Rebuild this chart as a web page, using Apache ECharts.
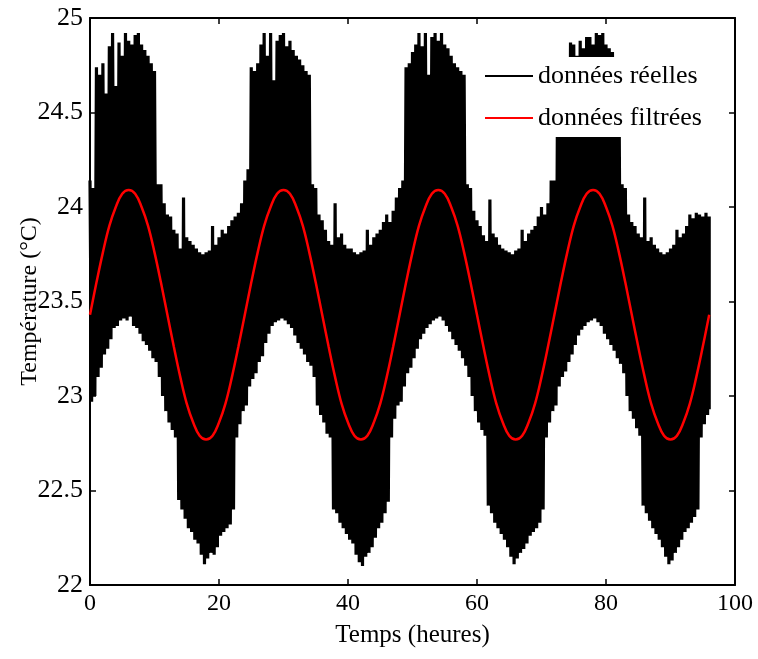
<!DOCTYPE html>
<html>
<head>
<meta charset="utf-8">
<script src="https://cdn.jsdelivr.net/npm/echarts@6/dist/echarts.min.js"></script>
<style>
html,body{margin:0;padding:0;background:#fff;}
#chart{width:758px;height:659px;}
</style>
</head>
<body>
<div id="chart"></div>
<script>
// Raw temperature: upper and lower envelope of the fast oscillation, every 0.5 h from 0 to 96 h
const envStep = 0.5;
const upperEnv = [
  24.14,24.10,24.74,24.70,24.76,24.60,24.85,24.92,24.64,24.87,24.80,24.92,24.88,24.86,24.91,24.92,24.86,24.83,24.80,24.76,24.72,24.12,24.12,24.02,23.96,23.95,23.88,23.86,23.78,24.05,23.84,23.82,23.80,23.78,23.76,23.75,23.76,23.77,23.90,23.80,23.84,23.88,23.86,23.90,23.93,23.95,23.97,24.02,
  24.14,24.20,24.74,24.72,24.76,24.86,24.92,24.80,24.92,24.67,24.88,24.91,24.92,24.85,24.88,24.83,24.80,24.78,24.75,24.72,24.70,24.12,24.10,23.96,23.93,23.88,23.82,23.80,24.02,23.84,23.86,23.80,23.78,23.78,23.76,23.75,23.76,23.77,23.88,23.80,23.84,23.86,23.88,23.92,23.96,23.92,23.98,24.05,
  24.10,24.14,24.74,24.76,24.82,24.86,24.92,24.85,24.92,24.70,24.90,24.92,24.88,24.92,24.86,24.84,24.80,24.76,24.74,24.72,24.70,24.12,24.10,23.98,23.93,23.90,23.85,23.82,24.04,23.86,23.84,23.80,23.78,23.77,23.76,23.75,23.77,23.78,23.88,23.82,23.86,23.88,23.90,23.95,24.00,23.96,24.02,24.14,
  24.14,24.70,24.75,24.78,24.76,24.87,24.86,24.80,24.88,24.84,24.90,24.90,24.86,24.92,24.91,24.92,24.86,24.84,24.82,24.76,24.72,24.12,24.10,23.96,23.92,23.90,23.86,23.84,24.05,23.82,23.84,23.80,23.78,23.76,23.75,23.76,23.78,23.80,23.88,23.84,23.86,23.90,23.96,23.94,23.97,23.96,23.95,23.97,23.95
];
const lowerEnv = [
  22.97,23.00,23.10,23.15,23.22,23.25,23.30,23.36,23.37,23.40,23.41,23.40,23.42,23.37,23.36,23.33,23.29,23.27,23.24,23.20,23.18,23.10,23.00,22.92,22.86,22.82,22.78,22.45,22.40,22.35,22.30,22.28,22.24,22.22,22.16,22.11,22.14,22.17,22.16,22.20,22.26,22.28,22.30,22.32,22.40,22.78,22.85,22.92,
  22.95,23.05,23.09,23.12,23.18,23.21,23.28,23.33,23.37,23.39,23.40,23.41,23.40,23.38,23.36,23.32,23.28,23.25,23.22,23.18,23.16,23.10,22.95,22.90,22.86,22.80,22.78,22.40,22.38,22.33,22.30,22.27,22.24,22.22,22.16,22.12,22.10,22.15,22.17,22.20,22.25,22.30,22.33,22.38,22.44,22.78,22.88,22.95,
  22.97,23.05,23.12,23.15,23.20,23.25,23.30,23.33,23.36,23.38,23.40,23.41,23.42,23.40,23.37,23.34,23.30,23.27,23.24,23.20,23.16,23.10,23.00,22.92,22.86,22.82,22.79,22.42,22.38,22.33,22.30,22.27,22.24,22.20,22.15,22.11,22.14,22.17,22.19,22.22,22.26,22.28,22.30,22.33,22.40,22.78,22.86,22.92,
  22.95,23.05,23.10,23.13,23.18,23.22,23.27,23.32,23.35,23.37,23.39,23.40,23.41,23.39,23.37,23.33,23.30,23.27,23.24,23.20,23.17,23.12,23.00,22.92,22.88,22.83,22.79,22.42,22.38,22.34,22.30,22.27,22.24,22.20,22.15,22.11,22.13,22.17,22.20,22.24,22.28,22.30,22.33,22.36,22.40,22.78,22.85,22.90,22.93
];
// Filtered temperature, every hour from 0 to 96 h
const filteredStep = 1;
const filteredTemp = [
  23.43,23.60,23.76,23.90,24.00,24.07,24.09,24.07,24.00,23.90,23.76,23.60,23.43,23.26,23.10,22.96,22.86,22.79,22.77,22.79,22.86,22.96,23.10,23.26,
  23.43,23.60,23.76,23.90,24.00,24.07,24.09,24.07,24.00,23.90,23.76,23.60,23.43,23.26,23.10,22.96,22.86,22.79,22.77,22.79,22.86,22.96,23.10,23.26,
  23.43,23.60,23.76,23.90,24.00,24.07,24.09,24.07,24.00,23.90,23.76,23.60,23.43,23.26,23.10,22.96,22.86,22.79,22.77,22.79,22.86,22.96,23.10,23.26,
  23.43,23.60,23.76,23.90,24.00,24.07,24.09,24.07,24.00,23.90,23.76,23.60,23.43,23.26,23.10,22.96,22.86,22.79,22.77,22.79,22.86,22.96,23.10,23.26,
  23.43
];
const seriesNames = ['données réelles', 'données filtrées'];
const xTicks = { min: 0, max: 100, interval: 20 };
const yTicks = { min: 22, max: 25, interval: 0.5 };
const xTitle = 'Temps (heures)';
const yTitle = 'Température (°C)';

// build point lists
const rawPoints = [];
for (let i = 0; i < upperEnv.length; i++) {
  const t = i * envStep;
  rawPoints.push([t, upperEnv[i]]);
  if (i < upperEnv.length - 1) rawPoints.push([t + envStep / 2, lowerEnv[i]]);
  else rawPoints.push([t, lowerEnv[i]]);
}
const filteredPoints = filteredTemp.map((v, i) => [i * filteredStep, v]);

const FONT = '"Liberation Serif", "Times New Roman", serif';
const chart = echarts.init(document.getElementById('chart'), null, { renderer: 'canvas' });
const axisCommon = {
  axisLine: { show: true, onZero: false, lineStyle: { color: '#000', width: 2 } },
  axisTick: { show: true, inside: true, length: 6, lineStyle: { color: '#000', width: 1.5 } },
  splitLine: { show: false }
};
chart.setOption({
  animation: false,
  backgroundColor: '#fff',
  grid: { left: 90, right: 23, top: 18, bottom: 74, containLabel: false },
  legend: {
    orient: 'vertical',
    left: 478,
    top: 57,
    backgroundColor: '#fff',
    padding: [6, 8, 6, 7],
    itemWidth: 48,
    itemHeight: 14,
    itemGap: 16,
    textStyle: { fontFamily: FONT, fontSize: 26, color: '#000' },
    data: [
      { name: seriesNames[0], icon: 'path://M0,0 L48,0 L48,2 L0,2 Z', itemStyle: { color: '#000' } },
      { name: seriesNames[1], icon: 'path://M0,0 L48,0 L48,2 L0,2 Z', itemStyle: { color: '#ff0000' } }
    ]
  },
  xAxis: [
    Object.assign({
      type: 'value', position: 'bottom', min: xTicks.min, max: xTicks.max, interval: xTicks.interval,
      name: xTitle, nameLocation: 'middle', nameGap: 38, nameMoveOverlap: false,
      nameTextStyle: { fontFamily: FONT, fontSize: 25, color: '#000' },
      axisLabel: { fontFamily: FONT, fontSize: 24, color: '#000', margin: 7 }
    }, axisCommon),
    Object.assign({
      type: 'value', position: 'top', min: xTicks.min, max: xTicks.max, interval: xTicks.interval,
      axisLabel: { show: false }
    }, axisCommon)
  ],
  yAxis: [
    Object.assign({
      type: 'value', position: 'left', min: yTicks.min, max: yTicks.max, interval: yTicks.interval,
      name: yTitle, nameLocation: 'middle', nameGap: 48, nameMoveOverlap: false,
      nameTextStyle: { fontFamily: FONT, fontSize: 24, color: '#000' },
      axisLabel: { fontFamily: FONT, fontSize: 26, color: '#000', margin: 7 }
    }, axisCommon),
    Object.assign({
      type: 'value', position: 'right', min: yTicks.min, max: yTicks.max, interval: yTicks.interval,
      axisLabel: { show: false }
    }, axisCommon)
  ],
  series: [
    {
      name: seriesNames[0], type: 'line', data: rawPoints, symbol: 'none', showSymbol: false,
      lineStyle: { color: '#000', width: 3.2, join: 'miter', miterLimit: 2 }, itemStyle: { color: '#000' },
      xAxisIndex: 0, yAxisIndex: 0, z: 2
    },
    {
      name: seriesNames[1], type: 'line', data: filteredPoints, symbol: 'none', showSymbol: false,
      smooth: 0.4,
      lineStyle: { color: '#ff0000', width: 2.5 }, itemStyle: { color: '#ff0000' },
      xAxisIndex: 0, yAxisIndex: 0, z: 3
    }
  ]
});
</script>
</body>
</html>
